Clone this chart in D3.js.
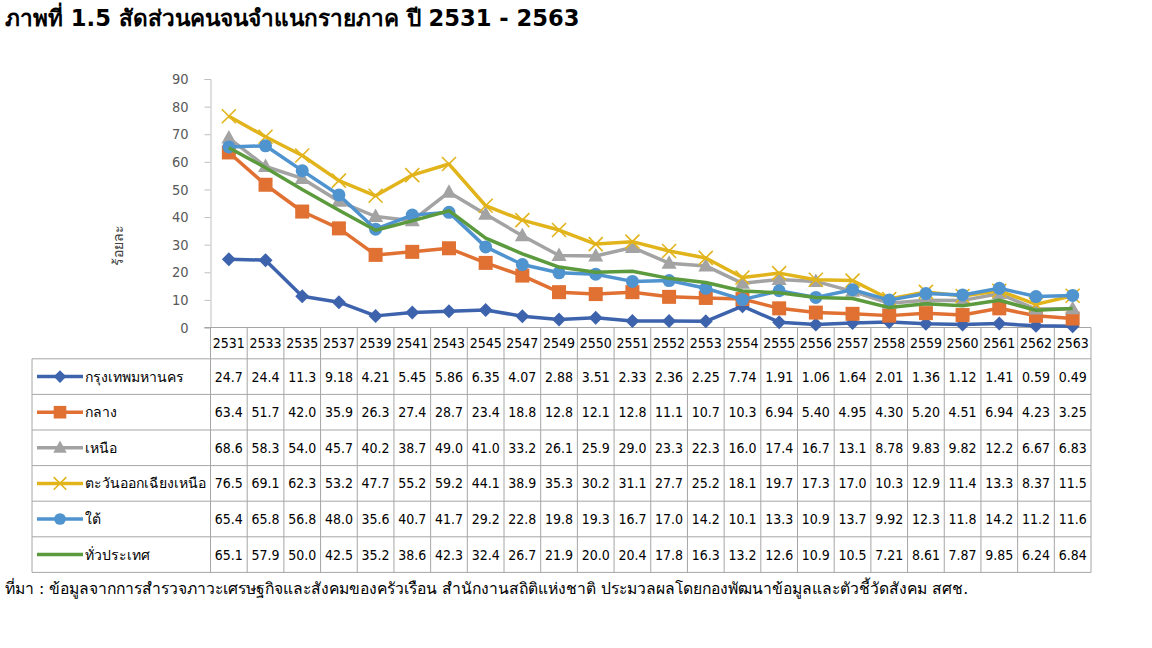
<!DOCTYPE html>
<html>
<head>
<meta charset="utf-8">
<script src="https://cdn.jsdelivr.net/npm/d3@7"></script>
<style>
  body { margin: 0; background: #fff; }
  svg { display: block; }
  text { font-family: "DejaVu Sans Condensed", "Liberation Sans", sans-serif; }
</style>
</head>
<body>
<svg id="chart" width="1152" height="648"></svg>
<script>
// values
let years = ["2531","2533","2535","2537","2539","2541","2543","2545","2547","2549","2550","2551",
  "2552","2553","2554","2555","2556","2557","2558","2559","2560","2561","2562","2563"];

let bangkok   = ["24.7","24.4","11.3","9.18","4.21","5.45","5.86","6.35","4.07","2.88","3.51","2.33",
  "2.36","2.25","7.74","1.91","1.06","1.64","2.01","1.36","1.12","1.41","0.59","0.49"];
let central   = ["63.4","51.7","42.0","35.9","26.3","27.4","28.7","23.4","18.8","12.8","12.1","12.8",
  "11.1","10.7","10.3","6.94","5.40","4.95","4.30","5.20","4.51","6.94","4.23","3.25"];
let north     = ["68.6","58.3","54.0","45.7","40.2","38.7","49.0","41.0","33.2","26.1","25.9","29.0",
  "23.3","22.3","16.0","17.4","16.7","13.1","8.78","9.83","9.82","12.2","6.67","6.83"];
let northeast = ["76.5","69.1","62.3","53.2","47.7","55.2","59.2","44.1","38.9","35.3","30.2","31.1",
  "27.7","25.2","18.1","19.7","17.3","17.0","10.3","12.9","11.4","13.3","8.37","11.5"];
let south     = ["65.4","65.8","56.8","48.0","35.6","40.7","41.7","29.2","22.8","19.8","19.3","16.7",
  "17.0","14.2","10.1","13.3","10.9","13.7","9.92","12.3","11.8","14.2","11.2","11.6"];
let kingdom   = ["65.1","57.9","50.0","42.5","35.2","38.6","42.3","32.4","26.7","21.9","20.0","20.4",
  "17.8","16.3","13.2","12.6","10.9","10.5","7.21","8.61","7.87","9.85","6.24","6.84"];

let seriesNames = ["กรุงเทพมหานคร","กลาง","เหนือ","ตะวันออกเฉียงเหนือ","ใต้","ทั่วประเทศ"];
let seriesValues = [bangkok, central, north, northeast, south, kingdom];
let seriesColors = ["#3d63ad","#e07132","#a3a3a3","#e2b41c","#4f93cf","#5c9a3e"];
let seriesMarkers = ["diamond","square","triangle","cross","circle","none"];
let yTicks = [0,10,20,30,40,50,60,70,80,90];

let title = "ภาพที่ 1.5 สัดส่วนคนจนจำแนกรายภาค ปี 2531 - 2563";
let source = "ที่มา : ข้อมูลจากการสำรวจภาวะเศรษฐกิจและสังคมของครัวเรือน สำนักงานสถิติแห่งชาติ ประมวลผลโดยกองพัฒนาข้อมูลและตัวชี้วัดสังคม สศช.";
let yLabel = "ร้อยละ";

const svg = d3.select("#chart");
const gridColor = "#a6a6a6";

const plotLeft = 210.5, plotRight = 1091, plotTop = 79, zeroY = 327.5;
const headH = 31.3, rowH = 35.6, legendLeft = 32;

let x = d3.scaleBand().domain(years).range([plotLeft, plotRight]);
let y = d3.scaleLinear().domain([0, 90]).range([zeroY, plotTop]);

svg.append("rect").attr("width", 1152).attr("height", 648).attr("fill", "#fff");

// title
svg.append("text")
  .attr("x", 5).attr("y", 26)
  .style("font-family", "Tahoma, 'DejaVu Sans', sans-serif")
  .style("font-size", "22.6px").style("font-weight", "bold")
  .attr("fill", "#000")
  .text(title);

// y axis
let yAxis = svg.append("g")
  .attr("transform", `translate(${plotLeft},0)`)
  .call(d3.axisLeft(y).tickValues(yTicks).tickSize(6).tickPadding(16));
yAxis.select(".domain").attr("stroke", "#bfbfbf");
yAxis.selectAll(".tick line").attr("stroke", "#bfbfbf");
yAxis.selectAll(".tick text")
  .attr("fill", "#595959")
  .style("font-size", "14.5px");

svg.append("text")
  .attr("transform", `translate(123,245) rotate(-90)`)
  .attr("text-anchor", "middle")
  .style("font-size", "14px")
  .attr("fill", "#404040")
  .text(yLabel);

// table grid
let table = svg.append("g");
let nRows = seriesNames.length;
let tableBottom = zeroY + headH + nRows * rowH;

table.append("line")
  .attr("x1", plotLeft - 6).attr("x2", plotRight)
  .attr("y1", zeroY).attr("y2", zeroY)
  .attr("stroke", gridColor);
d3.range(nRows + 1).forEach(i => {
  let yy = zeroY + headH + i * rowH;
  table.append("line")
    .attr("x1", legendLeft).attr("x2", plotRight)
    .attr("y1", yy).attr("y2", yy)
    .attr("stroke", gridColor);
});
years.forEach(yr => {
  table.append("line")
    .attr("x1", x(yr)).attr("x2", x(yr))
    .attr("y1", zeroY).attr("y2", tableBottom)
    .attr("stroke", gridColor);
});
table.append("line")
  .attr("x1", plotRight).attr("x2", plotRight)
  .attr("y1", zeroY).attr("y2", tableBottom)
  .attr("stroke", gridColor);
table.append("line")
  .attr("x1", legendLeft).attr("x2", legendLeft)
  .attr("y1", zeroY + headH).attr("y2", tableBottom)
  .attr("stroke", gridColor);

// year header
table.selectAll(".yr")
  .data(years)
  .enter()
  .append("text")
  .attr("x", d => x(d) + x.bandwidth() / 2)
  .attr("y", zeroY + headH / 2 + 5)
  .attr("text-anchor", "middle")
  .style("font-size", "14px")
  .attr("fill", "#000")
  .text(d => d);

// marker drawing, k scales it down for the legend
function drawMarker(g, type, color, k = 1) {
  if (type == "diamond") {
    g.append("path").attr("d", `M0,${-7*k}L${7*k},0L0,${7*k}L${-7*k},0Z`).attr("fill", color);
  } else if (type == "square") {
    g.append("rect").attr("x", -7*k).attr("y", -7*k).attr("width", 14*k).attr("height", 14*k).attr("fill", color);
  } else if (type == "triangle") {
    g.append("path").attr("d", `M0,${-8*k}L${7.5*k},${5.5*k}L${-7.5*k},${5.5*k}Z`).attr("fill", color);
  } else if (type == "cross") {
    g.append("path").attr("d", `M${-7*k},${-7*k}L${7*k},${7*k}M${-7*k},${7*k}L${7*k},${-7*k}`)
      .attr("stroke", color).attr("stroke-width", 1.6).attr("fill", "none");
  } else if (type == "circle") {
    g.append("circle").attr("r", 6.5*k).attr("fill", color);
  }
}

// rows: legend + values
seriesNames.forEach((name, i) => {
  let cy = zeroY + headH + i * rowH + rowH / 2;
  let color = seriesColors[i];
  table.append("line")
    .attr("x1", 37).attr("x2", 83)
    .attr("y1", cy).attr("y2", cy)
    .attr("stroke", color).attr("stroke-width", 3.5);
  let m = table.append("g").attr("transform", `translate(60,${cy})`);
  drawMarker(m, seriesMarkers[i], color, 0.9);
  table.append("text")
    .attr("x", 85).attr("y", cy + 5)
    .style("font-family", "Tahoma, 'DejaVu Sans', sans-serif")
    .style("font-size", "14px")
    .attr("fill", "#000")
    .text(name);

  table.selectAll(".v" + i)
    .data(seriesValues[i])
    .enter()
    .append("text")
    .attr("x", (d, j) => x(years[j]) + x.bandwidth() / 2)
    .attr("y", cy + 5)
    .attr("text-anchor", "middle")
    .style("font-size", "14px")
    .attr("fill", "#000")
    .text(d => d);
});

// lines
let line = d3.line()
  .x((d, j) => x(years[j]) + x.bandwidth() / 2)
  .y(d => y(+d));

let plot = svg.append("g");
seriesValues.forEach((vals, i) => {
  plot.append("path")
    .datum(vals)
    .attr("d", line)
    .attr("fill", "none")
    .attr("stroke", seriesColors[i])
    .attr("stroke-width", 3.5)
    .attr("stroke-linejoin", "round");
  plot.selectAll(".m" + i)
    .data(vals)
    .enter()
    .append("g")
    .attr("transform", (d, j) => `translate(${x(years[j]) + x.bandwidth() / 2},${y(+d)})`)
    .each(function () { drawMarker(d3.select(this), seriesMarkers[i], seriesColors[i]); });
});

// source note
svg.append("text")
  .attr("x", 5).attr("y", 594)
  .style("font-family", "Tahoma, 'DejaVu Sans', sans-serif")
  .style("font-size", "15.7px")
  .attr("fill", "#000")
  .text(source);
</script>
</body>
</html>
